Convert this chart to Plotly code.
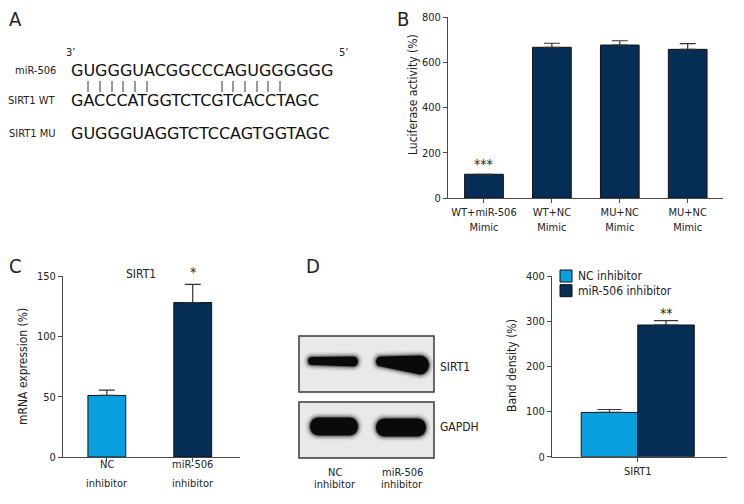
import plotly.graph_objects as go

# ---------------- data ----------------
# Panel A sequences
seq_mir = "GUGGGUACGGCCCAGUGGGGGG"
seq_wt = "GACCCATGGTCTCGTCACCTAGC"
seq_mu = "GUGGGUAGGTCTCCAGTGGTAGC"
seq_labels = ["miR-506", "SIRT1 WT", "SIRT1 MU"]

# Panel B luciferase
b_categories = ["WT+miR-506<br>Mimic", "WT+NC<br>Mimic", "MU+NC<br>Mimic", "MU+NC<br>Mimic"]
b_values = [105, 666, 676, 657]
b_errors = [0, 18, 19, 25]
b_ticks = [0, 200, 400, 600, 800]

# Panel C qPCR
c_categories = ["NC<br>inhibitor", "miR-506<br>inhibitor"]
c_values = [51, 128]
c_errors = [4.5, 15]
c_ticks = [0, 50, 100, 150]

# Panel D band density
d_group = ["SIRT1"]
d_series = ["NC inhibitor", "miR-506 inhibitor"]
d_values = [[98], [291.5]]
d_errors = [[6.5], [9.5]]
d_ticks = [0, 100, 200, 300, 400]
blot_rows = ["SIRT1", "GAPDH"]
blot_lanes = ["NC<br>inhibitor", "miR-506<br>inhibitor"]

# ---------------- style ----------------
W, H = 744, 504
NAVY = "#062d56"
LIGHT = "#0aa0e0"
AX = "#4a4a4a"
TXT = "#222222"
COND = "DejaVu Sans Condensed, Liberation Sans Narrow, Roboto, sans-serif"


def dx(px):
    return px / W


def dy(py):
    return 1 - py / H


fig = go.Figure()

# Panel B
fig.add_trace(go.Bar(
    x=list(range(len(b_categories))), y=b_values, width=0.57,
    marker=dict(color=NAVY, line=dict(color="#111111", width=1)),
    error_y=dict(type="data", array=b_errors, arrayminus=[0] * len(b_errors), symmetric=False,
                 color="#333333", thickness=1.2, width=8),
    xaxis="x", yaxis="y", showlegend=False))

# Panel C
fig.add_trace(go.Bar(
    x=list(range(len(c_categories))), y=c_values, width=0.44,
    marker=dict(color=[LIGHT, NAVY], line=dict(color="#111111", width=1)),
    error_y=dict(type="data", array=c_errors, arrayminus=[0] * len(c_errors), symmetric=False,
                 color="#333333", thickness=1.2, width=8),
    xaxis="x2", yaxis="y2", showlegend=False))

# Panel D
D_COLORS = [LIGHT, NAVY]
for i, (name, col) in enumerate(zip(d_series, D_COLORS)):
    fig.add_trace(go.Bar(
        x=[0], y=d_values[i], width=0.323, offset=-0.323 + 0.323 * i, name=name,
        marker=dict(color=col, line=dict(color="#111111", width=1)),
        error_y=dict(type="data", array=d_errors[i], arrayminus=[0], symmetric=False,
                     color="#333333", thickness=1.2, width=12),
        xaxis="x3", yaxis="y3", showlegend=False))

axis_common = dict(showgrid=False, zeroline=False, showline=True, linecolor=AX, linewidth=1,
                   ticks="outside", ticklen=4, tickcolor=AX, tickwidth=1, automargin=False,
                   tickfont=dict(family=COND, size=11, color=TXT), fixedrange=True)

fig.update_layout(
    width=W, height=H, margin=dict(l=0, r=0, t=0, b=0, pad=0, autoexpand=False),
    paper_bgcolor="white", plot_bgcolor="rgba(0,0,0,0)", barmode="overlay", showlegend=False,
    font=dict(family=COND, color=TXT),
    xaxis=dict(domain=[dx(448), dx(723)], range=[-0.53, 3.52], tickvals=list(range(len(b_categories))),
               ticktext=b_categories, anchor="y", **axis_common),
    yaxis=dict(domain=[dy(198), dy(17)], range=[0, 800], tickvals=b_ticks, anchor="x", **axis_common),
    xaxis2=dict(domain=[dx(63), dx(240)], range=[-0.51, 1.55], tickvals=list(range(len(c_categories))),
                showticklabels=False, anchor="y2", **axis_common),
    yaxis2=dict(domain=[dy(457), dy(276)], range=[0, 150], tickvals=c_ticks, anchor="x2", **axis_common),
    xaxis3=dict(domain=[dx(552), dx(727)], range=[-0.49, 0.51], tickvals=[0], ticktext=d_group,
                anchor="y3", **axis_common),
    yaxis3=dict(domain=[dy(456.7), dy(276)], range=[0, 400], tickvals=d_ticks, anchor="x3", **axis_common),
    xaxis4=dict(domain=[0, 1], range=[0, W], visible=False, fixedrange=True, automargin=False),
    yaxis4=dict(domain=[0, 1], range=[H, 0], visible=False, fixedrange=True, anchor="x4", automargin=False),
)

ann = []
shapes = []


def txt(x, y, s, size=12, family=COND, xanchor="center", color=TXT, angle=0):
    ann.append(dict(x=x, y=y, xref="x4", yref="y4", text=s, showarrow=False, xanchor=xanchor,
                    yanchor="middle", textangle=angle, font=dict(family=family, size=size, color=color)))


# panel letters
txt(15, 19, "A", 20)
txt(403, 19, "B", 20)
txt(15, 266, "C", 20)
txt(313, 266, "D", 20)

# axis titles
txt(413, 95, "Luciferase activity (%)", 12, angle=-90)
txt(23, 367, "mRNA expression (%)", 12, angle=-90)
txt(512, 366, "Band density (%)", 12, angle=-90)

# panel A
txt(70, 52, "3’", 11)
txt(343, 52, "5’", 11)
SEQF = "DejaVu Sans, Verdana, sans-serif"
rows_y = [70, 100, 133]
for lab, seq, yy in zip(seq_labels, [seq_mir, seq_wt, seq_mu], rows_y):
    txt(58, yy, lab, 11, xanchor="right")
    txt(69, yy, seq, 16, family=SEQF, xanchor="left", color="#111111")

for xx in [88, 100, 112, 123, 135, 147, 222, 233, 245, 257, 268, 280]:
    shapes.append(dict(type="line", xref="x4", yref="y4", x0=xx, x1=xx, y0=81, y1=92,
                       line=dict(color="#333333", width=1)))

# panel B significance
ann.append(dict(x=0, y=b_values[0], xref="x", yref="y", text="***", showarrow=False,
                yanchor="bottom", yshift=0, font=dict(family=COND, size=14, color=TXT)))

# panel C title, significance, x labels
txt(141, 274, "SIRT1", 12)
ann.append(dict(x=1, y=c_values[1] + c_errors[1], xref="x2", yref="y2", text="*", showarrow=False,
                yanchor="bottom", yshift=2, font=dict(family=COND, size=14, color=TXT)))
for i, lab in enumerate(c_categories):
    l1, l2 = lab.split("<br>")
    ann.append(dict(x=i, y=dy(464), xref="x2", yref="paper", text=l1, showarrow=False,
                    yanchor="middle", font=dict(family=COND, size=11, color=TXT)))
    ann.append(dict(x=i, y=dy(483), xref="x2", yref="paper", text=l2, showarrow=False,
                    yanchor="middle", font=dict(family=COND, size=11, color=TXT)))

# panel D significance
ann.append(dict(x=0.1615, y=d_values[1][0] + d_errors[1][0], xref="x3", yref="y3", text="**", showarrow=False,
                yanchor="bottom", yshift=-2, font=dict(family=COND, size=14, color=TXT)))

# panel D legend (drawn manually for compact spacing)
for i, (name, col) in enumerate(zip(d_series, D_COLORS)):
    yc = 276 + 14.7 * i
    shapes.append(dict(type="rect", xref="x4", yref="y4", x0=560, x1=572, y0=yc - 6, y1=yc + 6,
                       fillcolor=col, line=dict(color="#111111", width=1)))
    txt(576, yc, name, 12, xanchor="left")

# western blot boxes
for (y0, y1) in [(336, 392), (402, 458)]:
    shapes.append(dict(type="rect", xref="x4", yref="y4", x0=299, x1=434, y0=y0, y1=y1,
                       fillcolor="#e9e9e9", line=dict(color="#3a3a3a", width=1.5), layer="above"))


def capsule(x0, x1, yl, yr, hl, hr, grow):
    hl += grow
    hr += grow
    x0 -= grow
    x1 += grow
    rl = min(hl, (x1 - x0) / 4)
    rr = min(hr, (x1 - x0) / 4)
    k = 1.33
    return (f"M {x0 + rl},{yl - hl} L {x1 - rr},{yr - hr} "
            f"C {x1 - rr + k * rr},{yr - hr} {x1 - rr + k * rr},{yr + hr} {x1 - rr},{yr + hr} "
            f"L {x0 + rl},{yl + hl} "
            f"C {x0 + rl - k * rl},{yl + hl} {x0 + rl - k * rl},{yl - hl} {x0 + rl},{yl - hl} Z")


bands = [
    (308, 358, 361, 361.5, 4.0, 5.0),
    (376, 429, 361.5, 365, 5.0, 9.5),
    (310, 358, 426.5, 426.5, 9.0, 9.0),
    (376, 426, 427.5, 427.5, 9.0, 9.0),
]
layers = [(5, 0.06), (3.5, 0.10), (2.2, 0.18), (1.0, 0.35), (0, 1.0)]
for b in bands:
    for g, op in layers:
        shapes.append(dict(type="path", xref="x4", yref="y4", path=capsule(*b, g),
                           fillcolor="#0a0a0a", opacity=op, line=dict(width=0), layer="above"))

txt(438, 367, blot_rows[0], 12, xanchor="left")
txt(438, 427, blot_rows[1], 12, xanchor="left")
for xx, lab in zip([335, 402], blot_lanes):
    l1, l2 = lab.split("<br>")
    txt(xx, 472, l1, 11)
    txt(xx, 484, l2, 11)

fig.update_layout(annotations=ann, shapes=shapes)
fig.write_html("out.html", config={"displayModeBar": False, "staticPlot": True},
               post_script="document.body.style.margin='0px';document.body.style.padding='0px';")
